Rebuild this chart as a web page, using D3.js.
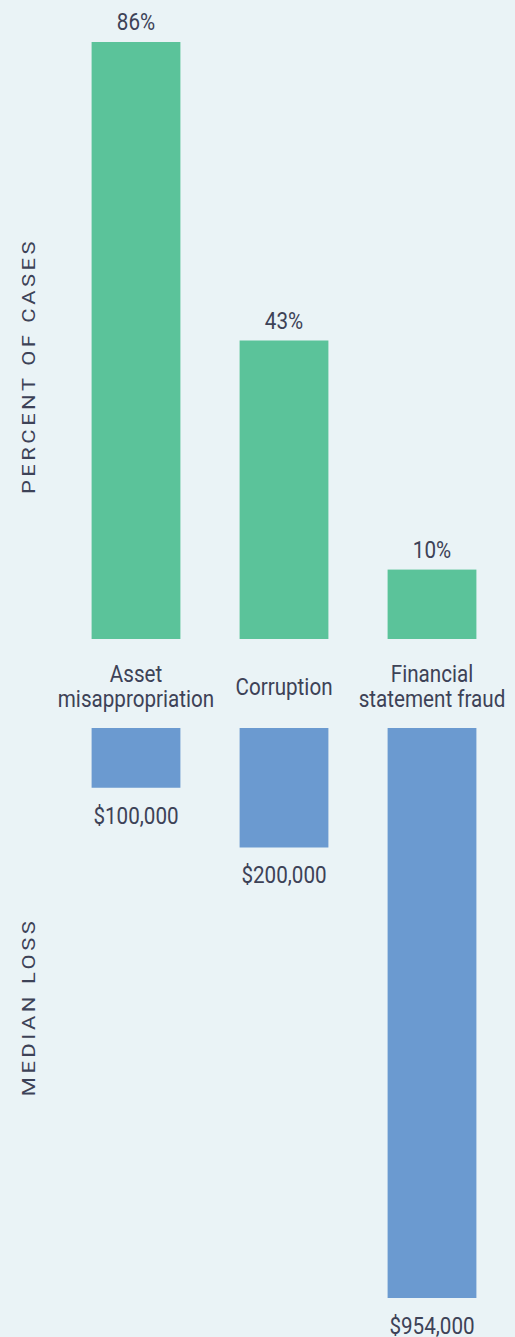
<!DOCTYPE html>
<html>
<head>
<meta charset="utf-8">
<script src="https://cdn.jsdelivr.net/npm/d3@7"></script>
<style>
  html, body { margin: 0; padding: 0; background: #eaf3f6; }
  svg { display: block; }
  text { font-family: Roboto, "Open Sans", sans-serif; fill: #3d4257; }
</style>
</head>
<body>
<div id="chart"></div>
<script>
// chart data
const categories = [["Asset", "misappropriation"], ["Corruption"], ["Financial", "statement fraud"]];
const percentCases = [86, 43, 10];
const medianLoss = [100000, 200000, 954000];

const width = 515;
const height = 1337;
const squeeze = 0.86; // type in the source is a little condensed
const fontSize = 24;

const svg = d3.select("#chart")
  .append("svg")
  .attr("width", width)
  .attr("height", height);

const xScale = d3.scaleBand()
  .domain(d3.range(categories.length))
  .range([62, 506])
  .paddingInner(0.4)
  .paddingOuter(0.2);

const cx = (i) => xScale(i) + xScale.bandwidth() / 2;

// top half: percent of cases (grows upward)
const topBase = 639;
const yTop = d3.scaleLinear().domain([0, 86]).range([topBase, 42]);

// bottom half: median loss (grows downward)
const botBase = 728;
const yBot = d3.scaleLinear().domain([0, 954000]).range([botBase, 1298]);

const fmtMoney = (d) => "$" + d3.format(",")(d);

svg.append("g")
  .selectAll("rect")
  .data(percentCases)
  .join("rect")
  .attr("x", (d, i) => xScale(i))
  .attr("y", (d) => yTop(d))
  .attr("width", xScale.bandwidth())
  .attr("height", (d) => topBase - yTop(d))
  .attr("fill", "#5bc39a");

svg.append("g")
  .selectAll("text")
  .data(percentCases)
  .join("text")
  .attr("transform", (d, i) => `translate(${cx(i)}, ${yTop(d) - 12}) scale(${squeeze}, 1)`)
  .attr("text-anchor", "middle")
  .attr("font-size", fontSize)
  .text((d) => d + "%");

svg.append("g")
  .selectAll("rect")
  .data(medianLoss)
  .join("rect")
  .attr("x", (d, i) => xScale(i))
  .attr("y", botBase)
  .attr("width", xScale.bandwidth())
  .attr("height", (d) => yBot(d) - botBase)
  .attr("fill", "#6b9ad0");

svg.append("g")
  .selectAll("text")
  .data(medianLoss)
  .join("text")
  .attr("transform", (d, i) => `translate(${cx(i)}, ${yBot(d) + 36}) scale(${squeeze}, 1)`)
  .attr("text-anchor", "middle")
  .attr("font-size", fontSize)
  .text(fmtMoney);

// category labels between the two halves
const labels = svg.append("g")
  .selectAll("text")
  .data(categories)
  .join("text")
  .attr("text-anchor", "middle")
  .attr("font-size", fontSize)
  .attr("transform", (d, i) => `translate(${cx(i)}, ${d.length === 1 ? 695 : 682}) scale(${squeeze}, 1)`);

labels.selectAll("tspan")
  .data((d) => d)
  .join("tspan")
  .attr("x", 0)
  .attr("dy", (d, i) => i === 0 ? 0 : 25)
  .text((d) => d);

// rotated section titles
function sideTitle(label, cy) {
  svg.append("text")
    .attr("transform", `translate(35, ${cy}) rotate(-90) scale(1, ${squeeze})`)
    .attr("text-anchor", "middle")
    .attr("font-size", 22)
    .attr("letter-spacing", 3.5)
    .text(label);
}
sideTitle("PERCENT OF CASES", 366);
sideTitle("MEDIAN LOSS", 1007);
</script>
</body>
</html>
